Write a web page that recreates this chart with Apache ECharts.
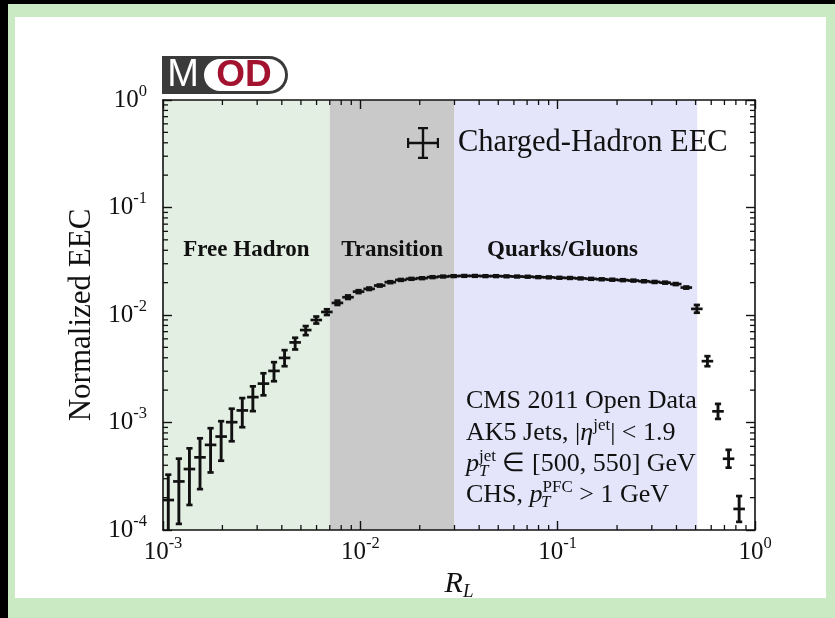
<!DOCTYPE html>
<html>
<head>
<meta charset="utf-8">
<script src="https://cdn.jsdelivr.net/npm/echarts/dist/echarts.min.js"></script>
<style>
html,body{margin:0;padding:0;background:#fff;overflow:hidden;}
#chart{width:835px;height:618px;}
</style>
</head>
<body>
<div id="chart"></div>
<script>
// ---------------- data ----------------
const rL = [1.0636e-3, 1.2034e-3, 1.3614e-3, 1.5399e-3, 1.7421e-3, 1.9708e-3, 2.2296e-3, 2.5223e-3, 2.8535e-3, 3.2281e-3,
  3.6517e-3, 4.1313e-3, 4.6736e-3, 5.2871e-3, 5.9813e-3, 6.7666e-3, 7.6551e-3, 8.6596e-3, 9.7965e-3, 1.1083e-2,
  1.2538e-2, 1.4184e-2, 1.6046e-2, 1.8153e-2, 2.0535e-2, 2.3232e-2, 2.6282e-2, 2.9733e-2, 3.3636e-2, 3.8052e-2,
  4.3048e-2, 4.8697e-2, 5.5091e-2, 6.2325e-2, 7.0507e-2, 7.9762e-2, 9.0234e-2, 0.10208, 0.11548, 0.13064,
  0.14779, 0.16720, 0.18914, 0.21397, 0.24206, 0.27384, 0.30979, 0.35046, 0.39646, 0.44851,
  0.50739, 0.57399, 0.64938, 0.73463, 0.83107];
const eec = [1.90e-4, 2.83e-4, 3.69e-4, 4.74e-4, 6.19e-4, 7.40e-4, 1.007e-3, 1.295e-3, 1.723e-3, 2.30e-3,
  3.02e-3, 3.99e-3, 5.56e-3, 7.24e-3, 8.98e-3, 1.067e-2, 1.295e-2, 1.463e-2, 1.65e-2, 1.75e-2,
  1.88e-2, 2.02e-2, 2.12e-2, 2.17e-2, 2.20e-2, 2.25e-2, 2.28e-2, 2.30e-2, 2.31e-2, 2.31e-2,
  2.30e-2, 2.30e-2, 2.29e-2, 2.28e-2, 2.27e-2, 2.25e-2, 2.24e-2, 2.22e-2, 2.21e-2, 2.19e-2,
  2.17e-2, 2.15e-2, 2.13e-2, 2.11e-2, 2.09e-2, 2.06e-2, 2.03e-2, 2.00e-2, 1.94e-2, 1.80e-2,
  1.14e-2, 3.72e-3, 1.27e-3, 4.6e-4, 1.57e-4];
const eecLow = [9.0e-5, 1.14e-4, 1.71e-4, 2.40e-4, 3.43e-4, 4.41e-4, 6.69e-4, 9.04e-4, 1.276e-3, 1.79e-3,
  2.42e-3, 3.34e-3, 4.78e-3, 6.50e-3, 8.33e-3, 1.00e-2, 1.24e-2, 1.41e-2, 1.60e-2, 1.71e-2,
  1.84e-2, 1.98e-2, 2.08e-2, 2.13e-2, 2.16e-2, 2.21e-2, 2.24e-2, 2.26e-2, 2.27e-2, 2.27e-2,
  2.26e-2, 2.26e-2, 2.25e-2, 2.24e-2, 2.23e-2, 2.21e-2, 2.20e-2, 2.18e-2, 2.17e-2, 2.15e-2,
  2.13e-2, 2.11e-2, 2.09e-2, 2.07e-2, 2.05e-2, 2.02e-2, 1.99e-2, 1.96e-2, 1.90e-2, 1.76e-2,
  1.05e-2, 3.34e-3, 1.08e-3, 3.8e-4, 1.19e-4];
const eecHigh = [3.27e-4, 4.61e-4, 5.75e-4, 7.13e-4, 8.85e-4, 1.028e-3, 1.343e-3, 1.687e-3, 2.17e-3, 2.87e-3,
  3.64e-3, 4.71e-3, 6.14e-3, 7.89e-3, 9.68e-3, 1.13e-2, 1.36e-2, 1.52e-2, 1.70e-2, 1.80e-2,
  1.92e-2, 2.06e-2, 2.16e-2, 2.21e-2, 2.24e-2, 2.29e-2, 2.32e-2, 2.34e-2, 2.35e-2, 2.35e-2,
  2.34e-2, 2.34e-2, 2.33e-2, 2.32e-2, 2.31e-2, 2.29e-2, 2.28e-2, 2.26e-2, 2.25e-2, 2.23e-2,
  2.21e-2, 2.19e-2, 2.17e-2, 2.15e-2, 2.13e-2, 2.10e-2, 2.07e-2, 2.04e-2, 1.98e-2, 1.84e-2,
  1.24e-2, 4.14e-3, 1.49e-3, 5.57e-4, 2.07e-4];
const binHalfWidthDecades = 0.02679;

const regionNames = ['Free Hadron', 'Transition', 'Quarks/Gluons'];
const regionEdges = [0.001, 0.007, 0.03, 0.51];
const regionColors = ['#e3efe3', '#c9c9c9', '#e4e4fa'];
const regionLabelPos = ['50%', '50%', '44.5%'];

const xRange = [1e-3, 1];
const yRange = [1e-4, 1];
const minorTicksX = [2e-3,3e-3,4e-3,5e-3,6e-3,7e-3,8e-3,9e-3,
  2e-2,3e-2,4e-2,5e-2,6e-2,7e-2,8e-2,9e-2,
  0.2,0.3,0.4,0.5,0.6,0.7,0.8,0.9];
const minorTicksY = [2e-4,3e-4,4e-4,5e-4,6e-4,7e-4,8e-4,9e-4,
  2e-3,3e-3,4e-3,5e-3,6e-3,7e-3,8e-3,9e-3,
  2e-2,3e-2,4e-2,5e-2,6e-2,7e-2,8e-2,9e-2,
  0.2,0.3,0.4,0.5,0.6,0.7,0.8,0.9];

const seriesName = 'Charged-Hadron EEC';
const yTitle = 'Normalized EEC';
const annotationLines = ['CMS 2011 Open Data'];

// ---------------- chart ----------------
const SERIF = 'Liberation Serif';
const INK = '#111';
const chart = echarts.init(document.getElementById('chart'), null, {renderer: 'canvas'});

const expRich = {
  b: {fontSize: 25, lineHeight: 34, fontFamily: SERIF, color: INK},
  s: {fontSize: 16.5, lineHeight: 19, verticalAlign: 'top', fontFamily: SERIF, color: INK}
};
function expLabel(v) {
  const e = Math.round(Math.log10(v));
  return '{b|10}{s|' + e + '}';
}

function errRender(params, api) {
  const x = api.value(0), y = api.value(1), lo = api.value(2), hi = api.value(3);
  const f = Math.pow(10, binHalfWidthDecades);
  const c = api.coord([x, y]);
  const l = api.coord([x / f, y]);
  const r = api.coord([x * f, y]);
  const pl = api.coord([x, lo]);
  const ph = api.coord([x, hi]);
  const cap = 3.1;
  const sH = {stroke: INK, lineWidth: 2.7, fill: null, lineCap: 'butt'};
  const sV = {stroke: INK, lineWidth: 2.9, fill: null, lineCap: 'butt'};
  const ln = (x1, y1, x2, y2, s) => ({type: 'line', shape: {x1, y1, x2, y2}, style: s});
  return {type: 'group', children: [
    ln(l[0] - 0.5, c[1], r[0] + 0.5, c[1], sH),
    ln(c[0], pl[1], c[0], ph[1], sV),
    ln(c[0] - cap, pl[1], c[0] + cap, pl[1], sH),
    ln(c[0] - cap, ph[1], c[0] + cap, ph[1], sH)
  ]};
}

function minorXRender(params, api) {
  const x = api.value(0);
  const b = api.coord([x, yRange[0]]);
  const t = api.coord([x, yRange[1]]);
  const st = {stroke: INK, lineWidth: 1.3};
  return {type: 'group', children: [
    {type: 'line', shape: {x1: b[0], y1: b[1], x2: b[0], y2: b[1] - 5}, style: st},
    {type: 'line', shape: {x1: t[0], y1: t[1], x2: t[0], y2: t[1] + 5}, style: st}
  ]};
}
function minorYRender(params, api) {
  const y = api.value(1);
  const l = api.coord([xRange[0], y]);
  const r = api.coord([xRange[1], y]);
  const st = {stroke: INK, lineWidth: 1.3};
  return {type: 'group', children: [
    {type: 'line', shape: {x1: l[0], y1: l[1], x2: l[0] + 5, y2: l[1]}, style: st},
    {type: 'line', shape: {x1: r[0], y1: r[1], x2: r[0] - 5, y2: r[1]}, style: st}
  ]};
}

const markAreaData = regionNames.map((n, i) => [
  {name: n, xAxis: regionEdges[i], itemStyle: {color: regionColors[i]},
   label: {position: [regionLabelPos[i], 150]}},
  {xAxis: regionEdges[i + 1]}
]);

const axisCommon = {
  type: 'log', logBase: 10,
  axisLine: {show: true, lineStyle: {color: INK, width: 1.6}},
  axisTick: {show: true, inside: true, length: 9, lineStyle: {color: INK, width: 1.4}},
  splitLine: {show: false},
  z: 10
};

const richIt = {fontStyle: 'italic', fontSize: 26, fontFamily: SERIF, lineHeight: 32};
const richSup = {fontSize: 17, fontFamily: SERIF, lineHeight: 18, verticalAlign: 'top'};

const option = {
  backgroundColor: '#ffffff',
  animation: false,
  grid: {left: 163, right: 80, top: 100, bottom: 88, containLabel: false},
  legend: {
    left: 402, top: 122, itemWidth: 32, itemHeight: 32, selectedMode: false,
    data: [{name: seriesName,
      icon: 'path://M0,14.8h32v2.4h-32z M14.8,0h2.4v32h-2.4z M0,11h2.2v10h-2.2z M29.8,11h2.2v10h-2.2z M11,0h10v2.2h-10z M11,29.8h10v2.2h-10z'}],
    formatter: n => '{t|' + n + '}',
    textStyle: {rich: {t: {fontFamily: SERIF, fontSize: 30.5, color: INK, padding: [0, 0, 0, 14]}}}
  },
  xAxis: [
    Object.assign({}, axisCommon, {
      position: 'bottom', min: xRange[0], max: xRange[1], splitNumber: 3,
      axisLabel: {show: true, margin: 5, formatter: expLabel, rich: expRich},
      name: '{i|R}{sub|L}', nameLocation: 'middle', nameGap: 36,
      nameTextStyle: {rich: {
        i: {fontFamily: SERIF, fontStyle: 'italic', fontSize: 30, color: INK, lineHeight: 34},
        sub: {fontFamily: SERIF, fontStyle: 'italic', fontSize: 19, color: INK, lineHeight: 20, verticalAlign: 'bottom'}
      }}
    }),
    Object.assign({}, axisCommon, {
      position: 'top', min: xRange[0], max: xRange[1], splitNumber: 3,
      axisLabel: {show: false}
    })
  ],
  yAxis: [
    Object.assign({}, axisCommon, {
      position: 'left', min: yRange[0], max: yRange[1], splitNumber: 4,
      axisLabel: {show: true, margin: 16, formatter: expLabel, rich: expRich},
      name: yTitle, nameLocation: 'middle', nameRotate: 90, nameGap: 66,
      nameTextStyle: {fontFamily: SERIF, fontSize: 31, color: INK}
    }),
    Object.assign({}, axisCommon, {
      position: 'right', min: yRange[0], max: yRange[1], splitNumber: 4,
      axisLabel: {show: false}
    })
  ],
  series: [
    {
      name: seriesName, type: 'custom', xAxisIndex: 0, yAxisIndex: 0,
      clip: true, color: INK, itemStyle: {color: INK},
      renderItem: errRender,
      encode: {x: 0, y: 1},
      data: rL.map((x, i) => [x, eec[i], eecLow[i], eecHigh[i]]),
      markArea: {
        silent: true,
        label: {show: true, color: INK, fontFamily: SERIF, fontWeight: 'bold', fontSize: 23,
                align: 'center', verticalAlign: 'middle'},
        data: markAreaData
      },
      z: 3
    },
    {
      name: 'minorX', type: 'custom', renderItem: minorXRender, silent: true, clip: false,
      encode: {x: 0, y: 1}, data: minorTicksX.map(v => [v, yRange[0]]), z: 11
    },
    {
      name: 'minorY', type: 'custom', renderItem: minorYRender, silent: true, clip: false,
      encode: {x: 0, y: 1}, data: minorTicksY.map(v => [xRange[0], v]), z: 11
    }
  ],
  graphic: [
    // frame
    {type: 'rect', shape: {x: 0, y: 0, width: 835, height: 4}, style: {fill: '#000'}, silent: true},
    {type: 'rect', shape: {x: 0, y: 0, width: 8, height: 618}, style: {fill: '#000'}, silent: true},
    {type: 'rect', shape: {x: 8, y: 4, width: 827, height: 13}, style: {fill: '#c9eac3'}, silent: true},
    {type: 'rect', shape: {x: 8, y: 4, width: 7, height: 614}, style: {fill: '#c9eac3'}, silent: true},
    {type: 'rect', shape: {x: 826, y: 4, width: 9, height: 614}, style: {fill: '#c9eac3'}, silent: true},
    {type: 'rect', shape: {x: 8, y: 598, width: 827, height: 20}, style: {fill: '#c9eac3'}, silent: true},
    // MOD logo
    {type: 'rect', shape: {x: 162, y: 56, width: 126, height: 38, r: [0, 19, 19, 0]}, style: {fill: '#3a3a3a'}, silent: true},
    {type: 'rect', shape: {x: 204, y: 59, width: 81, height: 32, r: 16}, style: {fill: '#ffffff'}, silent: true},
    {type: 'text', x: 183, y: 76, silent: true,
     style: {text: 'M', fill: '#ffffff', font: '38px "Liberation Sans"', align: 'center', verticalAlign: 'middle'}},
    {type: 'text', x: 244, y: 76, silent: true,
     style: {text: 'OD', fill: '#a3122f', font: 'bold 37px "Liberation Sans"', align: 'center', verticalAlign: 'middle'}},
    // annotation
    {type: 'text', x: 466, y: 401, silent: true, z: 20,
     style: {text: annotationLines[0], fill: INK, font: '26px "Liberation Serif"', verticalAlign: 'middle'}},
    {type: 'text', x: 466, y: 433, silent: true, z: 20,
     style: {text: 'AK5 Jets, |{i|η}{s|jet}| < 1.9', fill: INK, font: '26px "Liberation Serif"', verticalAlign: 'middle',
       rich: {i: richIt, s: richSup}}},
    {type: 'text', x: 466, y: 464, silent: true, z: 20,
     style: {text: '{i|p}{s|jet} ∈ [500, 550] GeV', fill: INK, font: '26px "Liberation Serif"', verticalAlign: 'middle',
       rich: {i: richIt, s: richSup}}},
    {type: 'text', x: 479, y: 472, silent: true, z: 20,
     style: {text: 'T', fill: INK, font: 'italic 17px "Liberation Serif"', verticalAlign: 'middle'}},
    {type: 'text', x: 466, y: 495, silent: true, z: 20,
     style: {text: 'CHS, {i|p}{s|PFC} > 1 GeV', fill: INK, font: '26px "Liberation Serif"', verticalAlign: 'middle',
       rich: {i: richIt, s: richSup}}},
    {type: 'text', x: 541, y: 503, silent: true, z: 20,
     style: {text: 'T', fill: INK, font: 'italic 17px "Liberation Serif"', verticalAlign: 'middle'}}
  ]
};
chart.setOption(option);
</script>
</body>
</html>
